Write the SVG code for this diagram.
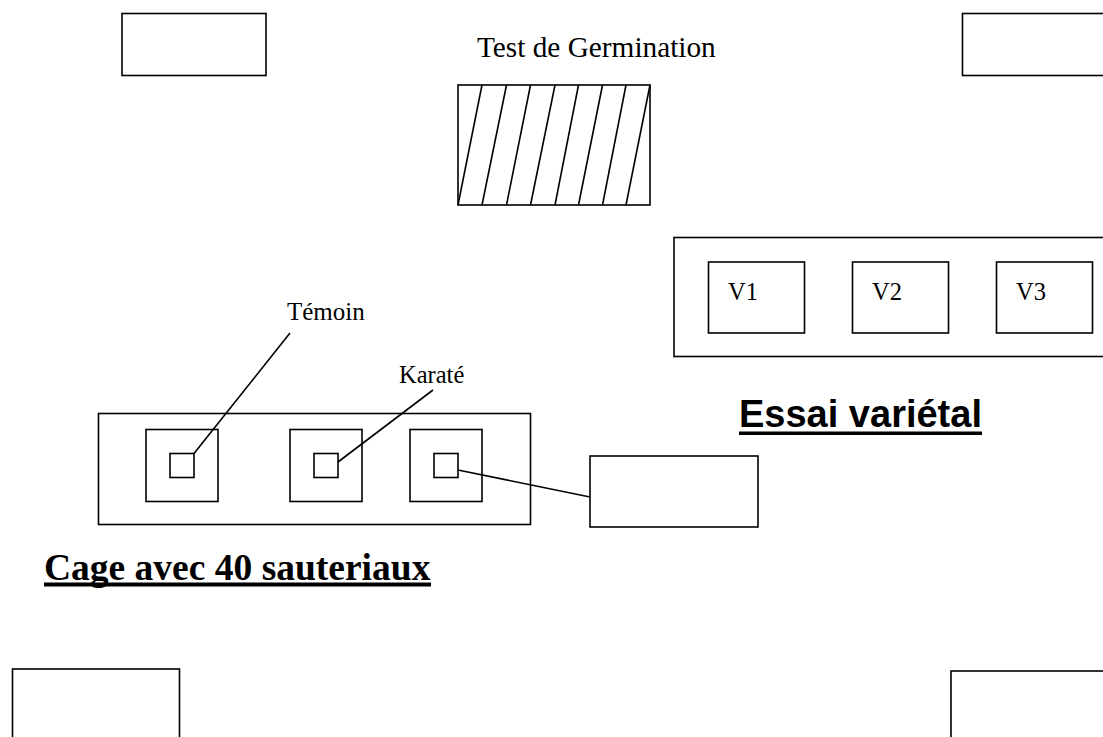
<svg xmlns="http://www.w3.org/2000/svg" width="1103" height="737" viewBox="0 0 1103 737">
  <style>
    .box { fill: #ffffff; stroke: #000000; stroke-width: 1.6; }
    .ln { fill: none; stroke: #000000; stroke-width: 1.6; }
    .lbl { font-family: "Liberation Serif", "Times New Roman", serif; fill: #000000; }
    .ttl-sans { font-family: "Liberation Sans", Arial, sans-serif; font-weight: bold; fill: #000000; }
    .ttl-serif { font-family: "Liberation Serif", "Times New Roman", serif; font-weight: bold; fill: #000000; }
    .ul { fill: #000000; stroke: none; }
  </style>
  <rect width="1103" height="737" fill="#ffffff"/>

  <g id="corner-top-left"><rect class="box" x="122" y="13.5" width="144" height="62"/></g>
  <g id="corner-top-right"><rect class="box" x="962.5" y="13.5" width="160" height="62"/></g>
  <g id="corner-bottom-left"><rect class="box" x="12.5" y="669" width="167" height="90"/></g>
  <g id="corner-bottom-right"><rect class="box" x="951" y="671" width="170" height="90"/></g>

  <g id="germination">
    <text class="lbl" x="477" y="57" font-size="29.3">Test de Germination</text>
    <rect class="box" x="458" y="85" width="192" height="120"/>
    <g class="hatch">
      <line class="ln" x1="458" y1="205" x2="482" y2="85"/>
      <line class="ln" x1="482" y1="205" x2="506.5" y2="85"/>
      <line class="ln" x1="506.5" y1="205" x2="530.5" y2="85"/>
      <line class="ln" x1="530.5" y1="205" x2="555" y2="85"/>
      <line class="ln" x1="555" y1="205" x2="578.5" y2="85"/>
      <line class="ln" x1="578.5" y1="205" x2="602.5" y2="85"/>
      <line class="ln" x1="602.5" y1="205" x2="626" y2="85"/>
      <line class="ln" x1="626" y1="205" x2="650" y2="85"/>
    </g>
  </g>

  <g id="essai-varietal">
    <rect class="box" x="674" y="237.5" width="450" height="119"/>
    <g id="v1"><rect class="box" x="708.5" y="262" width="96" height="71"/><text class="lbl" x="728" y="300" font-size="24.5">V1</text></g>
    <g id="v2"><rect class="box" x="852.5" y="262" width="96" height="71"/><text class="lbl" x="872" y="300" font-size="24.5">V2</text></g>
    <g id="v3"><rect class="box" x="996.5" y="262" width="96" height="71"/><text class="lbl" x="1016" y="300" font-size="24.5">V3</text></g>
    <text class="ttl-sans" x="739" y="427" font-size="38">Essai variétal</text>
    <rect class="ul" x="739" y="431.5" width="243" height="3.5"/>
  </g>

  <g id="cage">
    <rect class="box" x="98.5" y="413.5" width="432" height="111"/>
    <g id="cage-1"><rect class="box" x="146" y="429.5" width="72" height="72"/><rect class="box" x="170" y="453.5" width="24" height="24"/></g>
    <g id="cage-2"><rect class="box" x="290" y="429.5" width="72" height="72"/><rect class="box" x="314" y="453.5" width="24" height="24"/></g>
    <g id="cage-3"><rect class="box" x="410" y="429.5" width="72" height="72"/><rect class="box" x="434" y="453.5" width="24" height="24"/></g>
    <text class="ttl-serif" x="44" y="580" font-size="37.5">Cage avec 40 sauteriaux</text>
    <rect class="ul" x="44" y="582.5" width="387" height="4"/>
  </g>

  <g id="label-temoin"><text class="lbl" x="287" y="320" font-size="25">Témoin</text></g>
  <g id="label-karate"><text class="lbl" x="399" y="383" font-size="24.5">Karaté</text></g>
  <g id="side-box"><rect class="box" x="590" y="456" width="168" height="71"/></g>

  <g id="connectors">
    <line class="ln" x1="194" y1="453.5" x2="290" y2="333"/>
    <line class="ln" x1="338" y1="462" x2="433" y2="390"/>
    <line class="ln" x1="458" y1="470" x2="590" y2="497"/>
  </g>
</svg>
